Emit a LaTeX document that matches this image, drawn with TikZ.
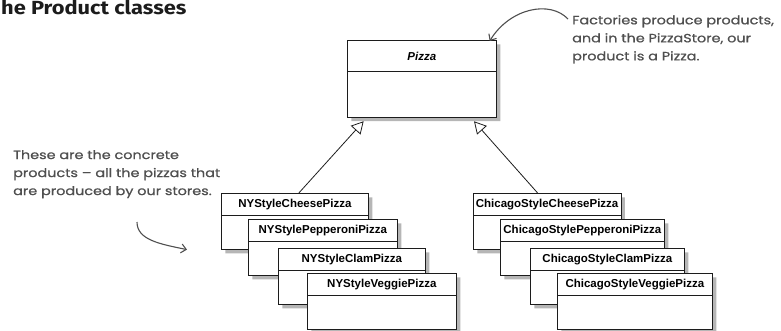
\documentclass[tikz,border=0pt]{standalone}
\usepackage{fontspec}
\setmainfont{Liberation Sans}
\newfontfamily\handfont[FakeStretch=1.2,FakeBold=0.8]{Poppins}
\newfontfamily\titlefont[FakeStretch=1.15]{Fira Sans}
\usetikzlibrary{arrows.meta,shapes.multipart,shadows}
\definecolor{ink}{HTML}{1C1C1C}
\definecolor{note}{HTML}{4F4F4F}
\definecolor{shade}{HTML}{7A7A7A}
\tikzset{cls/.style={draw=ink,fill=white,rectangle split,rectangle split parts=2,rectangle split empty part height=23pt,rectangle split empty part depth=0pt,inner xsep=2.5pt,inner ysep=5.2pt,font=\fontsize{11.5}{13}\selectfont\bfseries,anchor=north west,line width=0.7pt,drop shadow={shadow xshift=4pt,shadow yshift=-4pt,fill=shade,opacity=0.55}},gen/.style={-{Triangle[open,length=12pt,width=13pt]},line width=0.8pt,draw=ink},notetxt/.style={align=left,text=note,font=\handfont\fontsize{12}{18}\selectfont,anchor=north west,inner sep=0pt},notearr/.style={-{Straight Barb[length=5pt,width=9pt]},draw=note,line width=1.1pt}}

\begin{document}
\begin{tikzpicture}[x=1pt,y=-1pt]
\clip (0,0) rectangle (781,331);
\node[font=\titlefont\bfseries\fontsize{19}{23}\selectfont,anchor=base west,inner sep=0pt,text=ink] (title) at (1,15) {he Product classes};
\node[cls,minimum width=149pt,inner ysep=11pt,rectangle split empty part height=22pt,font=\fontsize{11.5}{13}\selectfont\bfseries\itshape] (pizza) at (347,40) {Pizza};
\node[cls,minimum width=147pt] (nycheese) at (221,193) {NYStyleCheesePizza};
\node[cls,minimum width=149pt] (nypepperoni) at (248,219) {NYStylePepperoniPizza};
\node[cls,minimum width=147pt] (nyclam) at (278,248) {NYStyleClamPizza};
\node[cls,minimum width=149pt] (nyveggie) at (307,273) {NYStyleVeggiePizza};
\node[cls,minimum width=147pt] (chicheese) at (473,193) {ChicagoStyleCheesePizza};
\node[cls,minimum width=164pt] (chipepperoni) at (500,219) {ChicagoStylePepperoniPizza};
\node[cls,minimum width=154pt] (chiclam) at (530,248) {ChicagoStyleClamPizza};
\node[cls,minimum width=155pt] (chiveggie) at (557,273) {ChicagoStyleVeggiePizza};
\node[notetxt] (notefactory) at (572,15) {Factories produce products,\\and in the PizzaStore, our\\product is a Pizza.};
\node[notetxt] (noteproducts) at (13,150) {These are the concrete\\products – all the pizzas that\\are produced by our stores.};
\coordinate (arcstart) at (568,19);
\coordinate (curlstart) at (137,222);
\draw[gen,shorten >=5pt] ([xshift=4pt]nycheese.north) -- ([xshift=20pt]pizza.south west);
\draw[gen,shorten >=5pt] ([xshift=-9.5pt]chicheese.north) -- ([xshift=-26pt]pizza.south east);
\draw[notearr] (arcstart) .. controls (550,0) and (510,8) .. ([xshift=-7pt,yshift=-1pt]pizza.north east);
\draw[notearr] (curlstart) .. controls (137,240) and (160,244) .. ([xshift=-34pt]nycheese.south west);
\end{tikzpicture}
\end{document}
